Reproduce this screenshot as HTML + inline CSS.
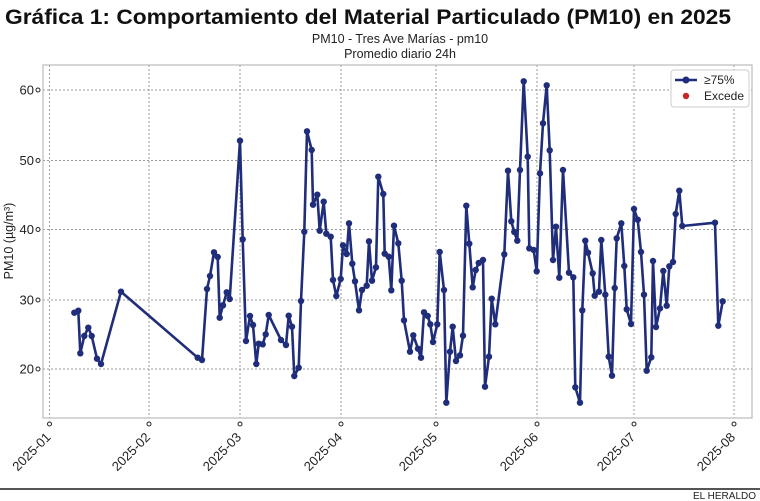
<!DOCTYPE html>
<html><head><meta charset="utf-8"><style>
body{margin:0;background:#fff;}
svg{display:block;font-family:"Liberation Sans","DejaVu Sans",sans-serif;}
</style></head><body>
<svg id="s" width="760" height="501" viewBox="0 0 760 501" xmlns="http://www.w3.org/2000/svg">
<rect width="760" height="501" fill="#fff"/>
<text x="5" y="24" font-size="21" font-weight="bold" fill="#111" textLength="726" lengthAdjust="spacingAndGlyphs">Gráfica 1: Comportamiento del Material Particulado (PM10) en 2025</text>
<text x="400" y="43" font-size="12.5" text-anchor="middle" fill="#222">PM10 - Tres Ave Marías - pm10</text>
<text x="400" y="58" font-size="12.5" text-anchor="middle" fill="#222">Promedio diario 24h</text>
<g id="grid" stroke="#999" stroke-width="1" stroke-dasharray="2,2"></g>
<rect x="43" y="65" width="709" height="353" fill="none" stroke="#bbb" stroke-width="1.2"/>
<g id="ticks" font-size="12" fill="#222"></g>
<text transform="translate(13,241) rotate(-90)" font-size="12.5" text-anchor="middle" fill="#222">PM10 (µg/m³)</text>
<polyline id="ln" fill="none" stroke="#1f2d7a" stroke-width="2.6" stroke-linejoin="round"/>
<g id="pts" fill="#1f2d7a"></g>
<rect x="671" y="70" width="78" height="37" rx="3" fill="#fff" stroke="#ccc"/>
<line x1="675" y1="80" x2="697" y2="80" stroke="#1f2d7a" stroke-width="2.6"/>
<circle cx="686" cy="80" r="3.5" fill="#1f2d7a"/>
<text x="704" y="84" font-size="12" fill="#222">≥75%</text>
<circle cx="686" cy="96" r="3.2" fill="#c62828"/>
<text x="704" y="100" font-size="12" fill="#222">Excede</text>
<rect x="0" y="488" width="760" height="2" fill="#555"/>
<text x="756" y="499" font-size="10" text-anchor="end" fill="#222">EL HERALDO</text>
</svg>
<script>
var NS="http://www.w3.org/2000/svg";
function el(t,a,p,txt){var e=document.createElementNS(NS,t);for(var k in a)e.setAttribute(k,a[k]);if(txt)e.textContent=txt;document.getElementById(p).appendChild(e);return e;}
var xs=[49.5,149,240,341,436,537,634,734];
var ys=[[90,60],[160.5,50],[229.5,40],[300,30],[369,20]];
xs.forEach(function(x,i){el("line",{x1:x,y1:65,x2:x,y2:418},"grid");
 el("circle",{cx:x,cy:424,r:2,fill:"none",stroke:"#222","stroke-width":1},"ticks");
 el("text",{transform:"translate("+(x+2)+",438) rotate(-45)","text-anchor":"end","font-size":"13"},"ticks","2025-0"+(i+1));});
ys.forEach(function(y){el("line",{x1:43,y1:y[0],x2:752,y2:y[0]},"grid");
 el("circle",{cx:38,cy:y[0],r:2,fill:"none",stroke:"#222","stroke-width":1},"ticks");
 el("text",{x:34,y:y[0]+4.5,"text-anchor":"end","font-size":"13"},"ticks",""+y[1]);});
var a=[[103,758],[115,752],[121,880],[133,828],[145,803],[155,828],[171,896],[183,912],[243,695],[473,893],[486,900],[501,687],[510,648],[522,577],[533,591],[539,773],[549,736],[560,697],[569,717],[600,242],[608,538],[618,843],[630,768],[639,795],[649,912],[656,851],[668,853],[677,823],[686,765],[723,840],[738,855],[746,767],[756,800],[763,948],[776,923],[783,723],[793,515],[801,214],[815,270],[819,434],[832,404],[839,512],[851,425],[859,521],[872,530],[879,660],[889,708],[902,657],[909,556],[920,582],[927,490],[937,611],[945,664],[957,751],[966,690],[980,677],[987,544],[996,662],[1008,622],[1015,350],[1030,402],[1034,581],[1046,590],[1054,691]];
var b=[[12,497],[25,550],[35,662],[42,781],[60,875],[70,826],[84,866],[93,893],[102,757],[113,768],[121,793],[129,846],[142,793],[149,576],[162,690],[169,1028],[180,875],[188,800],[198,903],[210,886],[219,827],[229,437],[238,551],[248,682],[257,630],[266,609],[279,600],[285,980],[297,890],[305,716],[316,793],[343,583],[354,332],[364,484],[373,516],[382,542],[390,330],[401,64],[413,290],[418,565],[431,570],[440,634],[450,340],[459,190],[470,76],[479,271],[489,600],[498,500],[508,653],[519,330],[537,638],[550,652],[556,982],[570,1028],[577,751],[586,542],[594,578],[608,640],[614,707],[627,695],[634,540],[646,704],[656,890],[666,947],[674,684],[680,535],[694,490],[703,618],[710,748],[723,792],[732,447],[743,479],[753,576],[762,704],[770,932],[784,892],[789,603],[798,801],[810,745],[820,633],[830,737],[838,619],[849,606],[857,462],[868,392],[877,498],[975,488],[985,797],[998,724]];
var p=[];a.forEach(function(q){p.push([q[0]/3+40,q[1]/3+60]);});
b.forEach(function(q){p.push([q[0]/3+390,q[1]/3+60]);});
document.getElementById("ln").setAttribute("points",p.map(function(q){return q[0].toFixed(1)+","+q[1].toFixed(1);}).join(" "));
p.forEach(function(q){el("circle",{cx:q[0].toFixed(1),cy:q[1].toFixed(1),r:3.2},"pts");});
</script>
</body></html>
